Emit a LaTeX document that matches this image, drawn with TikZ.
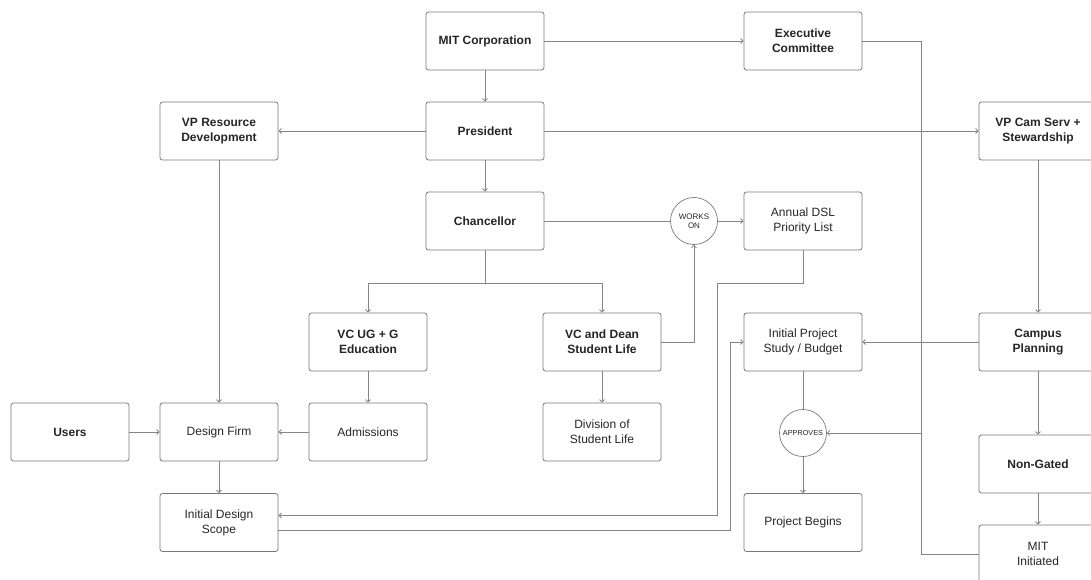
\documentclass[tikz,border=0pt]{standalone}
\usepackage{fontspec}
\setmainfont{Liberation Sans}
\usetikzlibrary{arrows.meta}
\definecolor{boxline}{HTML}{7A7A7A}
\definecolor{linkgray}{HTML}{858585}
\definecolor{ink}{HTML}{262626}
\begin{document}
\begin{tikzpicture}[x=1pt, y=-1pt,
    box/.style={draw=boxline, line width=0.8pt, rounded corners=2.5pt, fill=white,
      minimum width=118pt, minimum height=58pt, align=center, text=ink,
      font=\fontsize{12}{15}\selectfont, inner sep=2pt},
    headbox/.style={box, font=\fontsize{12}{15}\selectfont\bfseries},
    verb/.style={draw=boxline, line width=0.7pt, circle, fill=white, inner sep=0pt,
      minimum size=47pt, align=center, text=ink},
    link/.style={draw=linkgray, line width=0.8pt},
    arrow/.style={link, -{Straight Barb[length=2.5pt, width=5pt]}}]

  % === Canvas: pixel grid of the 1091 x 580 chart ===
  \clip (0,0) rectangle (1091,580);
  \fill[gray!1] (0,0) rectangle (1091,580);

  % --- Top of the organisation ---
  \node[headbox] (mitcorp)   at (485, 41)  {MIT Corporation};
  \node[headbox] (exec)      at (803, 41)  {Executive\\Committee};
  \node[headbox] (president) at (485,131)  {President};
  \node[headbox] (vpres)     at (219,131)  {VP Resource\\Development};
  \node[headbox] (vpcam)     at (1038,131) {VP Cam Serv +\\Stewardship};
  \node[headbox] (chancellor) at (485,221) {Chancellor};

  % --- Middle row ---
  \node[verb, font=\fontsize{8}{9.5}\selectfont] (workson) at (694,221) {WORKS\\ON};
  \node[box]     (dsl)    at (803,221)  {Annual DSL\\Priority List};
  \node[headbox] (vcug)   at (368,342)  {VC UG + G\\Education};
  \node[headbox] (vcdean) at (602,342)  {VC and Dean\\Student Life};
  \node[box]     (study)  at (803,342)  {Initial Project\\Study / Budget};
  \node[headbox] (campus) at (1038,342) {Campus\\Planning};

  % --- Lower rows ---
  \node[headbox] (users)      at (70,432)   {Users};
  \node[box]     (design)     at (219,432)  {Design Firm};
  \node[box]     (admissions) at (368,432)  {Admissions};
  \node[box]     (division)   at (602,432)  {Division of\\Student Life};
  \node[verb, font=\fontsize{7.3}{9}\selectfont] (approves) at (803,433) {APPROVES};
  \node[headbox] (nongated)   at (1038,464) {Non-Gated};
  \node[box]     (scope)      at (219,522.5) {Initial Design\\Scope};
  \node[box]     (begins)     at (803,522.5) {Project Begins};
  \node[box]     (mitinit)    at (1038,554) {MIT\\Initiated};

  % --- Bend points ---
  \coordinate (split)     at (485,283);
  \coordinate (dslbend)   at (717,283);
  \coordinate (studybend) at (730,342);
  \coordinate (apj)       at (921,433);

  % --- Chain of command ---
  \draw[arrow] (mitcorp) -- (president);
  \draw[arrow] (mitcorp) -- (exec);
  \draw[arrow] (president) -- (vpres);
  \draw[arrow] (president) -- (vpcam);
  \draw[arrow] (president) -- (chancellor);
  \draw[link]  (chancellor) -- (split);
  \draw[arrow] (split) -| (vcug);
  \draw[arrow] (split) -| (vcdean);
  \draw[link]  (chancellor) -- (workson);
  \draw[arrow] (workson) -- (dsl);
  \draw[arrow] (vcdean.east) -| (workson.south);
  \draw[arrow] (vcdean) -- (division);
  \draw[arrow] (vcug) -- (admissions);

  % --- Design side ---
  \draw[arrow] (vpres) -- (design);
  \draw[arrow] (users) -- (design);
  \draw[arrow] (admissions) -- (design);
  \draw[arrow] (design) -- (scope);
  \draw[arrow] (dsl.south) |- (dslbend) |- ([yshift=7pt]scope.east);
  \draw[arrow] ([yshift=-8pt]scope.east) -| (studybend) -- (study.west);

  % --- Campus side and approval ---
  \draw[arrow] (vpcam) -- (campus);
  \draw[arrow] (campus) -- (study);
  \draw[arrow] (campus) -- (nongated);
  \draw[arrow] (nongated) -- (mitinit);
  \draw[link]  (exec.east) -| (apj);
  \draw[link]  (mitinit.west) -| (apj);
  \draw[arrow] (apj) -- (approves);
  \draw[link]  (study) -- (approves);
  \draw[arrow] (approves) -- (begins);

\end{tikzpicture}
\end{document}
